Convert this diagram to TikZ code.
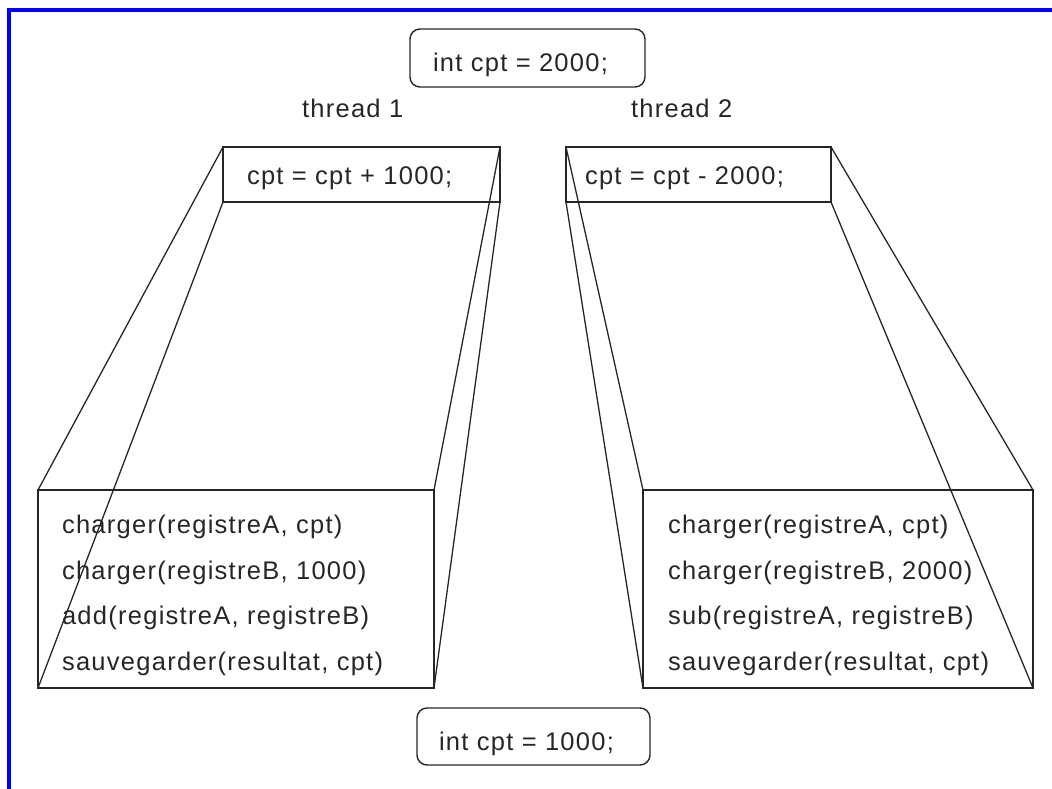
\documentclass[tikz,border=0pt]{standalone}
\usepackage{fontspec}
\setmainfont{Liberation Sans}[LetterSpace=5]
\begin{document}
\begin{tikzpicture}[x=1pt,y=-1pt,
  every node/.style={font=\fontsize{25.5}{30}\selectfont, text=black!85,
    inner sep=0pt, outer sep=0pt},
  boxline/.style={draw=black!85, line width=1.4pt},
  codebox/.style={boxline, rectangle, anchor=north west},
  varbox/.style={boxline, rectangle, rounded corners=10pt, anchor=north west},
  link/.style={draw=black!85, line width=1.3pt},
  txt/.style={anchor=base west},
]
\useasboundingbox (0,0) rectangle (1052,789);

% frame
\draw[blue, line width=3.5pt] (9,789) -- (9,10) -- (1052,10);

% shared variable, before and after
\node[varbox, minimum width=235pt, minimum height=58pt] (init) at (410,29) {};
\node[txt] (initT) at (433,72) {int cpt = 2000;};
\node[varbox, minimum width=233pt, minimum height=57pt] (final) at (417,708) {};
\node[txt] (finalT) at (439,750) {int cpt = 1000;};

% thread headings
\node[txt] (th1) at (302,118) {thread 1};
\node[txt] (th2) at (631,118) {thread 2};

% source statements
\node[codebox, minimum width=277pt, minimum height=55pt] (s1) at (223,147) {};
\node[txt] (s1T) at (247,184.5) {cpt = cpt + 1000;};
\node[codebox, minimum width=265pt, minimum height=55pt] (s2) at (566,147) {};
\node[txt] (s2T) at (585,184.5) {cpt = cpt - 2000;};

% machine-level expansion
\node[codebox, minimum width=396pt, minimum height=198pt] (b1) at (38,490) {};
\node[txt] (b1a) at (62,533.5) {charger(registreA, cpt)};
\node[txt] (b1b) at (62,579) {charger(registreB, 1000)};
\node[txt] (b1c) at (62,624.5) {add(registreA, registreB)};
\node[txt] (b1d) at (62,670) {sauvegarder(resultat, cpt)};

\node[codebox, minimum width=390pt, minimum height=198pt] (b2) at (643,490) {};
\node[txt] (b2a) at (668,533.5) {charger(registreA, cpt)};
\node[txt] (b2b) at (668,579) {charger(registreB, 2000)};
\node[txt] (b2c) at (668,624.5) {sub(registreA, registreB)};
\node[txt] (b2d) at (668,670) {sauvegarder(resultat, cpt)};

% projection lines joining corresponding corners
\foreach \s/\b in {s1/b1, s2/b2} {
  \draw[link] (\s.north west) -- (\b.north west);
  \draw[link] (\s.south west) -- (\b.south west);
  \draw[link] (\s.north east) -- (\b.north east);
  \draw[link] (\s.south east) -- (\b.south east);
}
\end{tikzpicture}
\end{document}
